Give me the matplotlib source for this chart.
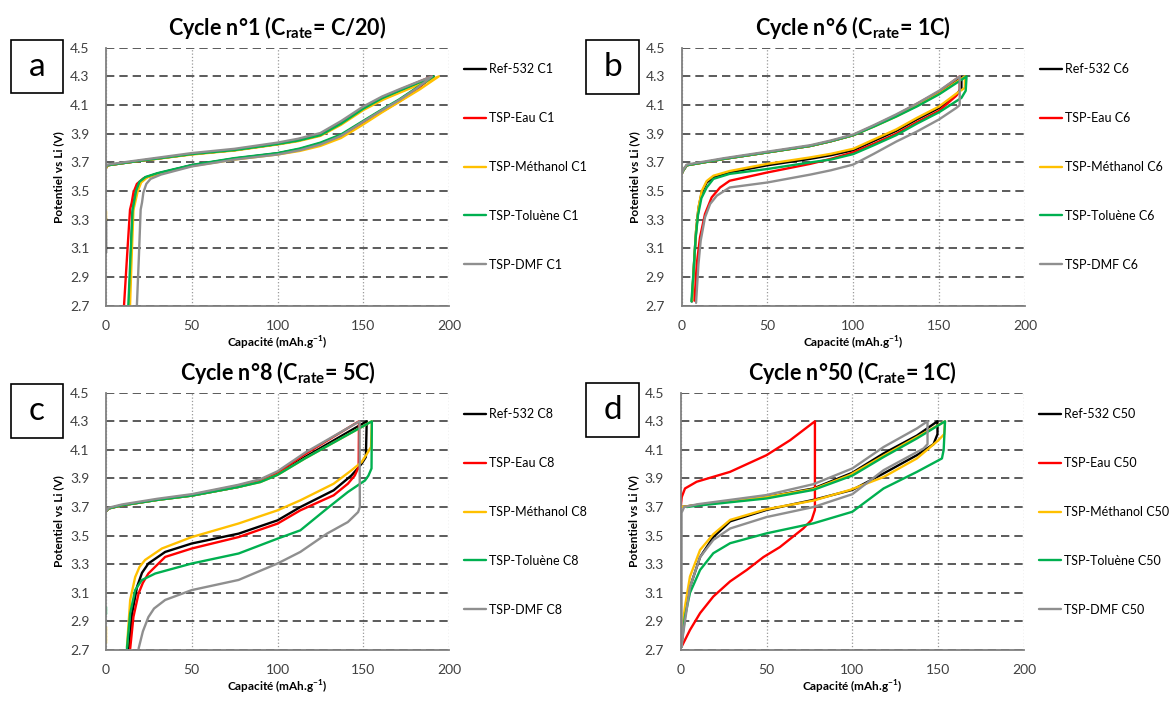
import numpy as np
import matplotlib
matplotlib.use('Agg')
import matplotlib.pyplot as plt
from matplotlib.patches import Rectangle

nan = np.nan

plt.rcParams['font.family'] = ['Lato', 'DejaVu Sans']
plt.rcParams['mathtext.fontset'] = 'custom'
plt.rcParams['mathtext.rm'] = 'Lato'
plt.rcParams['mathtext.bf'] = 'Lato:bold'

CAP_TICKS = [0, 50, 100, 150, 200]
POT_TICKS = [2.7, 2.9, 3.1, 3.3, 3.5, 3.7, 3.9, 4.1, 4.3, 4.5]
NAMES = ['Ref-532', 'TSP-Eau', 'TSP-Méthanol', 'TSP-Toluène', 'TSP-DMF']
COLORS = ['#000000', '#ff0000', '#ffc000', '#00b050', '#8f8f8f']

# --- cycle 1 (C/20) ---
A_REF_X = [0, 0, nan, 0, 1, 16, 50, 75, 100, 112, 125, 137, 150, 161, 171, 181, 191, 181, 171, 161, 150, 137, 125, 113, 100, 75, 50, 30, 23, 19.5, 17.5, 16.3, 15.5, 14.5, 13.5]
A_REF_Y = [3.07, 3.31, nan, 3.66, 3.68, 3.705, 3.758, 3.786, 3.828, 3.852, 3.89, 3.97, 4.075, 4.148, 4.2, 4.25, 4.3, 4.216, 4.135, 4.065, 3.984, 3.89, 3.833, 3.793, 3.763, 3.727, 3.68, 3.622, 3.595, 3.56, 3.5, 3.42, 3.35, 3.05, 2.7]
A_EAU_X = [0, 1, 16, 50, 75, 100, 112, 125, 137, 150, 161, 171, 181, 190, 181, 171, 161, 150, 137, 125, 113, 100, 75, 50, 30, 22, 18, 16, 15, 14, 12.3, 10.5]
A_EAU_Y = [3.67, 3.68, 3.705, 3.758, 3.786, 3.828, 3.853, 3.892, 3.975, 4.08, 4.152, 4.205, 4.255, 4.3, 4.205, 4.125, 4.055, 3.975, 3.88, 3.825, 3.788, 3.76, 3.725, 3.678, 3.62, 3.59, 3.55, 3.49, 3.42, 3.37, 3.05, 2.7]
A_METH_X = [0, 0, nan, 0, 1, 16, 50, 75, 100, 112, 125, 137, 150, 162, 172, 183, 194, 183, 172, 161, 150, 137, 125, 113, 100, 75, 50, 30, 24, 20.5, 18.5, 17, 16, 15, 14]
A_METH_Y = [3.30, 3.36, nan, 3.66, 3.68, 3.705, 3.755, 3.783, 3.825, 3.848, 3.885, 3.962, 4.065, 4.14, 4.19, 4.245, 4.3, 4.21, 4.13, 4.05, 3.965, 3.87, 3.815, 3.78, 3.755, 3.72, 3.675, 3.62, 3.595, 3.56, 3.5, 3.42, 3.37, 3.05, 2.7]
A_TOL_X = [0, 1, 16, 50, 75, 100, 112, 125, 137, 150, 161, 171, 181, 191, 181, 171, 161, 150, 137, 125, 113, 100, 75, 50, 30, 23, 19.5, 17.5, 16.3, 15.5, 14.3, 13]
A_TOL_Y = [3.67, 3.68, 3.705, 3.758, 3.786, 3.828, 3.852, 3.89, 3.97, 4.075, 4.148, 4.2, 4.25, 4.3, 4.22, 4.14, 4.07, 3.99, 3.895, 3.838, 3.797, 3.765, 3.73, 3.682, 3.625, 3.598, 3.565, 3.5, 3.42, 3.37, 3.05, 2.7]
A_DMF_X = [0, 1, 16, 50, 75, 100, 112, 125, 137, 150, 161, 171, 181, 190, 181, 171, 161, 150, 137, 125, 113, 100, 75, 50, 32, 26, 23.5, 21.8, 21, 20.2, 19.2, 18]
A_DMF_Y = [3.67, 3.685, 3.71, 3.765, 3.795, 3.838, 3.865, 3.905, 3.988, 4.09, 4.16, 4.21, 4.258, 4.3, 4.215, 4.135, 4.065, 3.984, 3.885, 3.825, 3.785, 3.755, 3.72, 3.672, 3.615, 3.585, 3.55, 3.49, 3.42, 3.37, 3.05, 2.7]

# --- cycle 6 (1C) ---
B_REF_X = [0, 1, 3, 25, 50, 75, 87, 100, 112, 125, 137, 150, 163, 163, 160, 150, 137, 125, 112, 100, 87, 75, 50, 28, 18.5, 14.6, 11.7, 9.8, 8.4, 7.3, 6]
B_REF_Y = [3.62, 3.645, 3.68, 3.725, 3.77, 3.815, 3.848, 3.89, 3.953, 4.025, 4.1, 4.185, 4.3, 4.22, 4.17, 4.08, 4.0, 3.92, 3.85, 3.785, 3.75, 3.725, 3.68, 3.63, 3.595, 3.56, 3.49, 3.38, 3.22, 3.01, 2.73]
B_EAU_X = [0, 1, 3, 25, 50, 75, 87, 100, 112, 125, 137, 150, 162, 162, 160, 150, 137, 125, 112, 100, 87, 75, 50, 28, 22.4, 17.5, 13.6, 10.7, 8.8, 7.5]
B_EAU_Y = [3.62, 3.645, 3.68, 3.725, 3.77, 3.815, 3.848, 3.89, 3.956, 4.03, 4.108, 4.195, 4.3, 4.2, 4.165, 4.06, 3.98, 3.90, 3.83, 3.77, 3.725, 3.69, 3.63, 3.572, 3.525, 3.456, 3.34, 3.177, 2.99, 2.735]
B_METH_X = [0, 1, 3, 25, 50, 75, 87, 100, 112, 125, 137, 150, 165, 165, 160, 150, 137, 125, 112, 100, 87, 75, 50, 28, 18.5, 14.6, 11.7, 9.8, 8.4, 7.3, 6]
B_METH_Y = [3.62, 3.645, 3.68, 3.725, 3.77, 3.815, 3.848, 3.89, 3.95, 4.02, 4.095, 4.18, 4.3, 4.22, 4.18, 4.09, 4.01, 3.93, 3.86, 3.795, 3.76, 3.735, 3.69, 3.64, 3.607, 3.57, 3.50, 3.386, 3.223, 3.014, 2.735]
B_TOL_X = [0, 1, 3, 25, 50, 75, 87, 100, 112, 125, 137, 150, 166, 165.5, 163, 150, 137, 125, 112, 100, 87, 75, 50, 28, 18.5, 14.6, 11.5, 9.5, 8, 7, 5.7]
B_TOL_Y = [3.62, 3.645, 3.68, 3.725, 3.77, 3.815, 3.848, 3.89, 3.95, 4.02, 4.09, 4.175, 4.3, 4.2, 4.15, 4.05, 3.97, 3.89, 3.82, 3.758, 3.72, 3.70, 3.654, 3.62, 3.585, 3.525, 3.45, 3.33, 3.15, 2.95, 2.73]
B_DMF_X = [0, 1, 3, 25, 50, 75, 87, 100, 112, 125, 137, 150, 162, 162, 160, 150, 137, 125, 112, 100, 87, 75, 50, 28, 20.5, 16.6, 13.6, 11.1, 9.8, 8.4]
B_DMF_Y = [3.62, 3.65, 3.685, 3.73, 3.775, 3.82, 3.853, 3.895, 3.96, 4.035, 4.11, 4.2, 4.3, 4.1, 4.08, 4.0, 3.915, 3.845, 3.76, 3.685, 3.645, 3.615, 3.56, 3.525, 3.468, 3.41, 3.316, 3.154, 2.99, 2.72]

# --- cycle 8 (5C) ---
C_REF_X = [0, 1.5, 9.3, 30, 50, 77, 90, 100, 116, 152, 151.5, 149, 146.6, 143, 132.7, 113.3, 100, 77.3, 50, 34.5, 24.7, 21, 18.1, 15.2, 13.2]
C_REF_Y = [3.67, 3.69, 3.712, 3.75, 3.78, 3.84, 3.88, 3.93, 4.05, 4.3, 4.05, 4.003, 3.968, 3.92, 3.817, 3.70, 3.607, 3.514, 3.445, 3.386, 3.305, 3.24, 3.142, 2.956, 2.71]
C_EAU_X = [0, 1.5, 9.3, 30, 50, 77, 90, 100, 116, 147.5, 147.3, 145, 141, 132.7, 113.3, 100, 77.3, 50, 34.5, 24.7, 21.5, 19, 16, 14.1]
C_EAU_Y = [3.67, 3.69, 3.712, 3.752, 3.785, 3.85, 3.89, 3.94, 4.07, 4.3, 3.98, 3.92, 3.863, 3.782, 3.677, 3.584, 3.49, 3.41, 3.351, 3.235, 3.17, 3.096, 2.932, 2.71]
C_METH_X = [0, 0, nan, 0, 1.5, 9.3, 30, 50, 77, 90, 100, 116, 155, 154.5, 152, 149, 143, 132.7, 113.3, 100, 77.3, 50, 32.6, 22.8, 19.5, 17, 14.1, 12.2]
C_METH_Y = [2.75, 2.86, nan, 3.67, 3.69, 3.712, 3.75, 3.78, 3.84, 3.875, 3.925, 4.04, 4.3, 4.12, 4.07, 4.014, 3.956, 3.863, 3.747, 3.677, 3.585, 3.49, 3.41, 3.33, 3.28, 3.21, 3.05, 2.72]
C_TOL_X = [0, 0, nan, 0, 1.5, 9.3, 30, 50, 77, 90, 100, 116, 155, 154.8, 153, 151, 141, 128.8, 113.3, 100, 77.3, 50, 28.7, 20.9, 17, 14.1, 12.2]
C_TOL_Y = [2.95, 3.0, nan, 3.67, 3.69, 3.712, 3.75, 3.78, 3.84, 3.875, 3.925, 4.04, 4.3, 3.97, 3.92, 3.886, 3.805, 3.689, 3.537, 3.479, 3.375, 3.305, 3.235, 3.189, 3.119, 2.956, 2.71]
C_DMF_X = [0, 1.5, 9.3, 30, 50, 77, 90, 100, 116, 147.8, 148, 147, 141, 128.8, 113.3, 100, 77.3, 50, 34.5, 28, 24.7, 21.5, 19]
C_DMF_Y = [3.67, 3.695, 3.718, 3.758, 3.79, 3.855, 3.895, 3.95, 4.08, 4.3, 3.70, 3.665, 3.595, 3.514, 3.386, 3.305, 3.19, 3.119, 3.05, 2.99, 2.93, 2.83, 2.71]

# --- cycle 50 (1C) ---
D_REF_X = [0, 10, 50, 77.3, 100, 118.2, 137.6, 149.6, 149.6, 147.3, 137.6, 118.2, 100, 77.3, 50, 28.8, 19, 11.3, 5.4, 2.5, 0.6]
D_REF_Y = [3.70, 3.715, 3.77, 3.83, 3.94, 4.075, 4.2, 4.3, 4.21, 4.14, 4.063, 3.935, 3.82, 3.75, 3.68, 3.6, 3.49, 3.35, 3.14, 2.96, 2.77]
D_EAU_X = [0, 0.6, 2.5, 9.3, 28.7, 50, 63.8, 78.2, 78.2, 76.3, 71.4, 57.8, 48.2, 38.5, 28.8, 19, 11.3, 5.4, 0.6]
D_EAU_Y = [3.70, 3.77, 3.83, 3.877, 3.946, 4.063, 4.168, 4.3, 3.68, 3.61, 3.55, 3.42, 3.35, 3.26, 3.18, 3.074, 2.958, 2.84, 2.725]
D_METH_X = [0, 10, 50, 77.3, 98.7, 118.2, 137.6, 154, 153.5, 150.2, 137.6, 118.2, 98.7, 77.3, 50, 28.8, 19, 11.3, 5.4, 2.5, 0.6]
D_METH_Y = [3.70, 3.715, 3.77, 3.825, 3.925, 4.06, 4.19, 4.3, 4.21, 4.168, 4.04, 3.91, 3.82, 3.745, 3.685, 3.61, 3.51, 3.40, 3.214, 3.005, 2.82]
D_TOL_X = [3.5, 10, 50, 77.3, 100, 118.2, 137.6, 154, 153.2, 152.2, 137.6, 118.2, 100, 77.3, 50, 28.8, 19, 11.3, 5.4, 2.5, 0.6]
D_TOL_Y = [3.70, 3.71, 3.76, 3.82, 3.92, 4.05, 4.18, 4.3, 4.1, 4.04, 3.946, 3.83, 3.667, 3.586, 3.516, 3.447, 3.377, 3.26, 3.1, 2.934, 2.75]
D_DMF_X = [0.5, 0.5, 2, 10, 50, 77.3, 100, 118.2, 137.6, 143.8, 143.8, 141.5, 118.2, 100, 77.3, 50, 28.8, 19, 11.3, 5.4, 1.5, 0.5]
D_DMF_Y = [2.72, 3.66, 3.70, 3.72, 3.784, 3.86, 3.97, 4.12, 4.25, 4.3, 4.14, 4.11, 3.958, 3.79, 3.70, 3.63, 3.55, 3.47, 3.35, 3.14, 2.82, 2.72]

PANELS = [
    ([A_REF_X, A_EAU_X, A_METH_X, A_TOL_X, A_DMF_X],
     [A_REF_Y, A_EAU_Y, A_METH_Y, A_TOL_Y, A_DMF_Y],
     'C1', r'Cycle n°1 (C$_{\mathbf{rate}}$= C/20)', 'a'),
    ([B_REF_X, B_EAU_X, B_METH_X, B_TOL_X, B_DMF_X],
     [B_REF_Y, B_EAU_Y, B_METH_Y, B_TOL_Y, B_DMF_Y],
     'C6', r'Cycle n°6 (C$_{\mathbf{rate}}$= 1C)', 'b'),
    ([C_REF_X, C_EAU_X, C_METH_X, C_TOL_X, C_DMF_X],
     [C_REF_Y, C_EAU_Y, C_METH_Y, C_TOL_Y, C_DMF_Y],
     'C8', r'Cycle n°8 (C$_{\mathbf{rate}}$= 5C)', 'c'),
    ([D_REF_X, D_EAU_X, D_METH_X, D_TOL_X, D_DMF_X],
     [D_REF_Y, D_EAU_Y, D_METH_Y, D_TOL_Y, D_DMF_Y],
     'C50', r'Cycle n°50 (C$_{\mathbf{rate}}$= 1C)', 'd'),
]

# axes rectangles in figure fraction, letter boxes in pixels
AX_POS = [
    [0.0906, 0.5645, 0.2932, 0.3675],
    [0.5826, 0.5645, 0.2934, 0.3675],
    [0.0906, 0.0741, 0.2932, 0.3665],
    [0.5818, 0.0741, 0.2934, 0.3665],
]
BOX_PX = [(11, 40, 52, 53), (586, 40, 53, 54), (11, 384, 52, 54), (586, 383, 53, 54)]

W, H = 1170, 702
fig = plt.figure(figsize=(W / 100, H / 100), dpi=100)

for (xs, ys, suffix, title, letter), pos, box in zip(PANELS, AX_POS, BOX_PX):
    ax = fig.add_axes(pos)
    for x, y, c, name in zip(xs, ys, COLORS, NAMES):
        ax.plot(x, y, color=c, lw=1.7, label=f'{name} {suffix}',
                solid_joinstyle='round', solid_capstyle='round')
    ax.set_xlim(0, 200)
    ax.set_ylim(2.7, 4.5)
    ax.set_xticks(CAP_TICKS)
    ax.set_yticks(POT_TICKS)
    ax.set_yticklabels([f'{v:.1f}' for v in POT_TICKS])
    ax.grid(axis='y', ls=(0, (5, 3)), color='#404040', lw=1.2)
    ax.grid(axis='x', ls=':', color='#9a9a9a', lw=0.9)
    ax.set_axisbelow(True)
    for s in ['top', 'right']:
        ax.spines[s].set_visible(False)
    for s in ['left', 'bottom']:
        ax.spines[s].set_color('#808080')
        ax.spines[s].set_linewidth(1.3)
    ax.tick_params(length=0, labelsize=10, labelcolor='#404040')
    ax.tick_params(axis='y', pad=12)
    ax.tick_params(axis='x', pad=10)
    ax.set_ylabel('Potentiel vs Li (V)', fontsize=8.5, fontweight='bold', labelpad=4)
    ax.set_xlabel('Capacité (mAh.g$^{\\mathbf{-1}}$)', fontsize=8.5, fontweight='bold', labelpad=2)
    ax.set_title(title, fontsize=15.5, fontweight='bold', pad=9)
    ax.legend(loc='upper left', bbox_to_anchor=(1.045, 0.94), frameon=False,
              fontsize=9, labelspacing=2.95, handlelength=1.75, handletextpad=0.25,
              borderpad=0, borderaxespad=0)

    bx, by, bw, bh = box
    fig.add_artist(Rectangle((bx / W, 1 - (by + bh) / H), bw / W, bh / H,
                             transform=fig.transFigure, fill=False, ec='black', lw=1.2))
    fig.text((bx + bw / 2) / W, 1 - (by + bh / 2) / H, letter, fontsize=24,
             ha='center', va='center')

fig.savefig('out.png', dpi=100)
